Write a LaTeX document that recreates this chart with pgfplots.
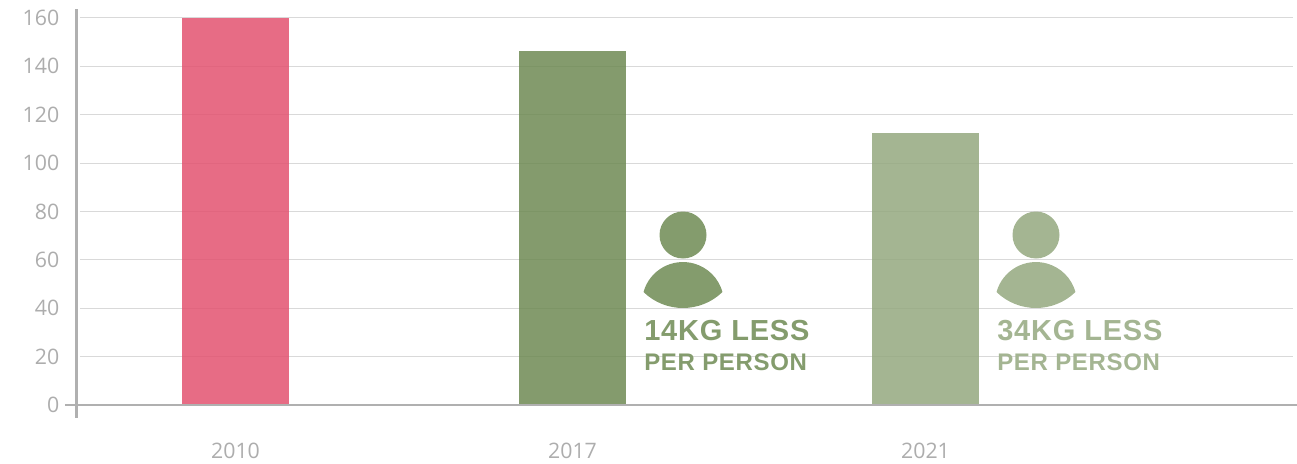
\documentclass[border=0pt]{standalone}
\usepackage{pgfplots}
\pgfplotsset{compat=1.18}
\usepackage{fontspec}
\setmainfont{Open Sans}
\newfontfamily\bigbl[LetterSpace=2.8]{Liberation Sans}
\newfontfamily\smallbl[LetterSpace=2.8]{Liberation Sans}
\definecolor{pinkbar}{HTML}{E35270}
\definecolor{greenbar}{HTML}{6E8A53}
\definecolor{lightbar}{HTML}{94A87F}
\definecolor{greentxt}{HTML}{849C6D}
\definecolor{lighttxt}{HTML}{A4B592}
\definecolor{ticktxt}{HTML}{ADADAD}
\definecolor{gridc}{HTML}{D9D9D9}
\definecolor{axisc}{HTML}{B0B0B0}
\newcommand{\person}[2]{%
  \fill[#2] (#1+23,235) circle[radius=23.5];
  \fill[#2] (#1-16.5,292) arc[start angle=164.4,end angle=15.6,radius=30.75pt]
     arc[start angle=-45.9,end angle=-134.1,radius=42.56pt] -- cycle;
}
\begin{document}
\begin{tikzpicture}[x=0.75pt,y=-0.75pt]
\useasboundingbox (0,0) rectangle (1297,464);
\begin{axis}[
  at={(60pt,-313.5pt)}, anchor=south west,
  scale only axis,
  width=909.75pt, height=306.75pt,
  xmin=80, xmax=1293,
  ymin=-5.37, ymax=163.7,
  clip=false,
  axis line style={draw=none},
  tick style={draw=none},
  ytick={0,20,...,160},
  xtick={235.5,572.5,925.5},
  xticklabels={2010,2017,2021},
  ymajorgrids,
  grid style={gridc,line width=0.8pt},
  tick label style={font=\fontsize{16}{16}\selectfont,text=ticktxt},
  /pgf/number format/assume math mode=true,
  yticklabel style={anchor=east,xshift=-12pt},
  xticklabel style={anchor=center,yshift=-24.5pt},
]
\addplot[ybar, bar width=80.25pt, bar shift=0pt, draw=none, fill=pinkbar, fill opacity=.85] coordinates {(235.5,160)};
\addplot[ybar, bar width=80.25pt, bar shift=0pt, draw=none, fill=greenbar, fill opacity=.85] coordinates {(572.5,146.5)};
\addplot[ybar, bar width=80.25pt, bar shift=0pt, draw=none, fill=lightbar, fill opacity=.85] coordinates {(925.5,112.5)};
\draw[axisc,line width=1.6pt] (axis cs:76.5,163.7) -- (axis cs:76.5,-5.37);
\draw[axisc,line width=1.2pt] (axis cs:65,0) -- (axis cs:1297,0);
\end{axis}
\person{660}{greentxt}
\person{1013}{lighttxt}
\node[anchor=base west,inner sep=0,text=greentxt] at (644,340) {\bigbl\bfseries\fontsize{21.75}{21.75}\selectfont 14KG LESS};
\node[anchor=base west,inner sep=0,text=greentxt] at (644,370) {\smallbl\bfseries\fontsize{18}{18}\selectfont PER PERSON};
\node[anchor=base west,inner sep=0,text=lighttxt] at (997,340) {\bigbl\bfseries\fontsize{21.75}{21.75}\selectfont 34KG LESS};
\node[anchor=base west,inner sep=0,text=lighttxt] at (997,370) {\smallbl\bfseries\fontsize{18}{18}\selectfont PER PERSON};
\end{tikzpicture}
\end{document}
